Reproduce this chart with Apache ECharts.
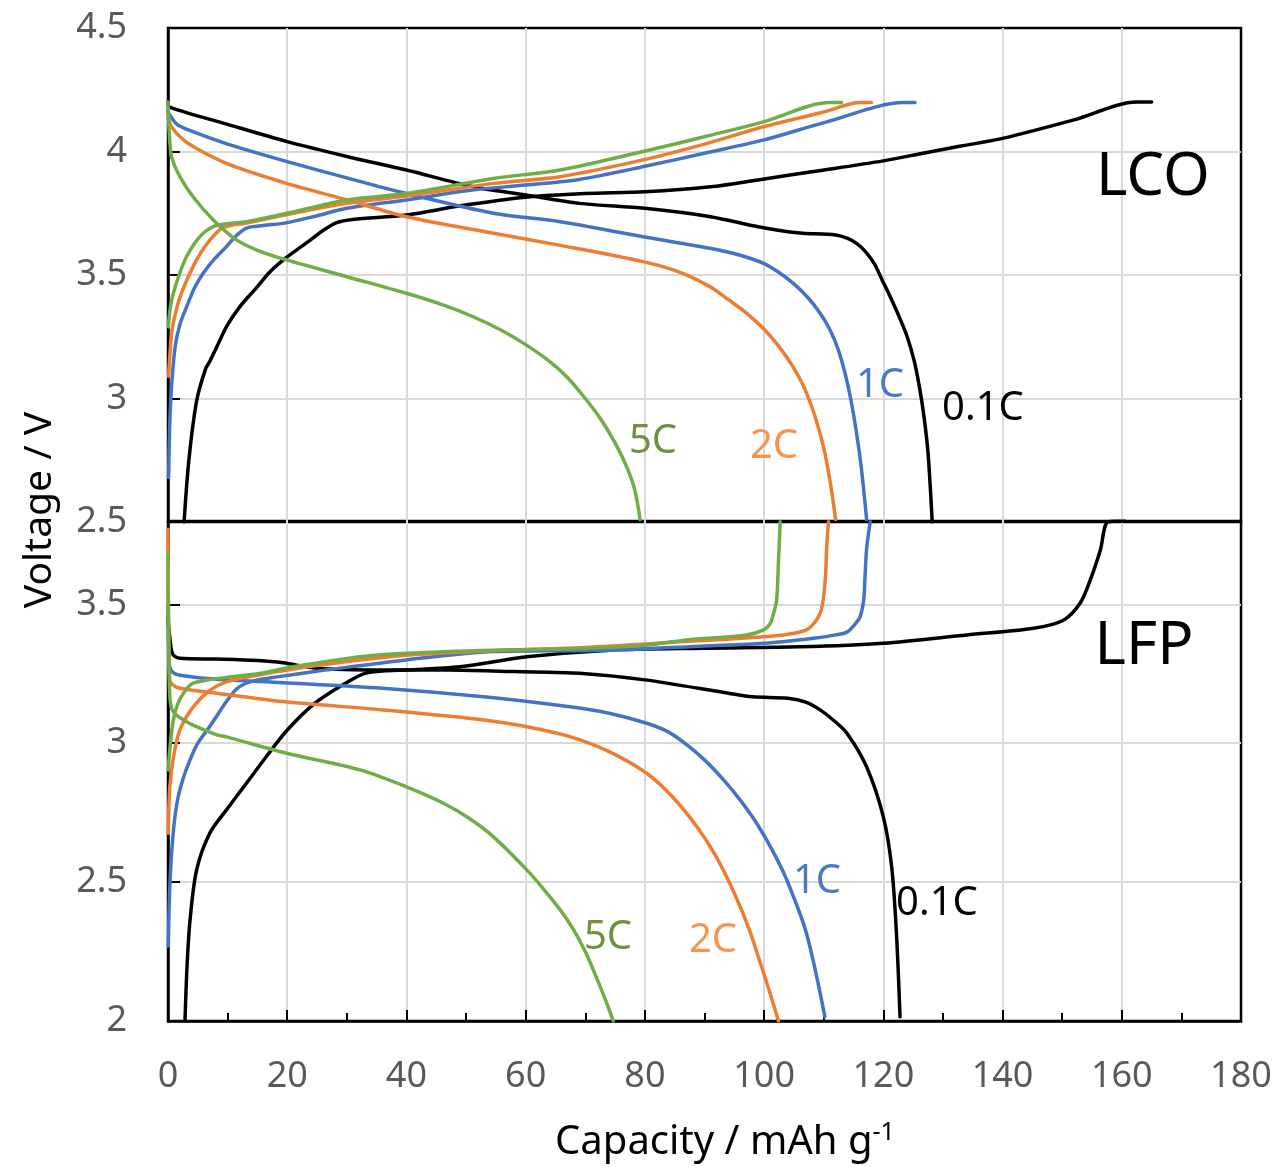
<!DOCTYPE html>
<html><head><meta charset="utf-8">
<script src="https://cdn.jsdelivr.net/npm/echarts@6/dist/echarts.min.js"></script>
<style>html,body{margin:0;padding:0;background:#fff}#c{width:1278px;height:1167px}</style>
</head><body><div id="c"></div>
<script>
// ---- LCO panel (top) : [capacity mAh/g, voltage V]
const lcoCharge01 = [[2.7,2.5],[3.5,2.75],[4.8,2.99],[6.3,3.12],[7.0,3.15],[8.2,3.21],[9.8,3.29],[12,3.37],[14.9,3.45],[17,3.51],[19.3,3.56],[21.5,3.6],[23.8,3.64],[26,3.68],[28.3,3.712],[31,3.725],[40,3.743],[49,3.78],[60,3.815],[70,3.83],[80,3.837],[91,3.857],[99,3.885],[108,3.918],[120,3.962],[126,3.99],[133,4.022],[140,4.053],[152,4.128],[162.5,4.2],[165,4.2]];
const lcoDis01 = [[0,4.2],[0.3,4.18],[10,4.11],[20,4.04],[30,3.98],[40,3.925],[51,3.858],[60,3.824],[69,3.79],[80,3.77],[91,3.736],[99,3.695],[104,3.675],[106.5,3.669],[112,3.662],[114,3.648],[115.5,3.628],[117,3.595],[118.5,3.545],[119.8,3.48],[121,3.42],[122.5,3.34],[124,3.25],[125.2,3.15],[126.1,3.04],[126.8,2.93],[127.5,2.78],[128.2,2.5]];
const lcoCharge1C = [[0.1,2.68],[0.3,2.9],[0.6,3.05],[1.2,3.21],[2,3.3],[3.1,3.37],[4.5,3.45],[5.9,3.507],[7.8,3.565],[9.8,3.615],[11.5,3.66],[13.2,3.69],[16,3.70],[20,3.712],[25,3.74],[30,3.77],[40,3.804],[51,3.844],[60,3.864],[69,3.887],[80,3.94],[90,3.993],[100,4.047],[110.5,4.12],[123.4,4.198],[125.3,4.198]];
const lcoDis1C = [[0,4.16],[0.3,4.148],[1.5,4.11],[4.2,4.08],[10,4.03],[20,3.959],[30,3.893],[40,3.83],[54.6,3.75],[65.8,3.716],[79.7,3.655],[90.9,3.608],[96,3.58],[99.9,3.547],[102.5,3.51],[104.9,3.466],[107.3,3.41],[109.4,3.345],[111,3.28],[112.4,3.2],[113.6,3.1],[114.6,2.99],[115.5,2.86],[116.3,2.72],[117.2,2.51]];
const lcoCharge2C = [[0.1,3.09],[0.6,3.264],[1.2,3.34],[2,3.41],[3,3.47],[4.2,3.534],[5.5,3.59],[7,3.64],[9,3.689],[11,3.703],[13.2,3.71],[20,3.745],[30,3.79],[40,3.82],[54.6,3.871],[65.8,3.898],[79.7,3.966],[90,4.03],[99.9,4.10],[110,4.16],[116.1,4.198],[118,4.198]];
const lcoDis2C = [[0,4.135],[0.6,4.10],[2,4.06],[4.2,4.02],[10,3.95],[19.9,3.871],[30,3.804],[40,3.736],[54.6,3.669],[65.8,3.62],[79.7,3.554],[86,3.51],[90.9,3.453],[94,3.40],[97.1,3.345],[100,3.28],[102.5,3.21],[104.8,3.13],[106.8,3.04],[108.5,2.93],[110,2.8],[111.1,2.66],[112,2.51]];
const lcoCharge5C = [[0.05,3.29],[0.4,3.37],[0.9,3.426],[2,3.51],[3.1,3.574],[4.5,3.63],[5.9,3.669],[7.6,3.696],[10,3.708],[13.2,3.716],[20,3.75],[30,3.804],[40,3.83],[54.6,3.891],[65.8,3.925],[79.7,4.0],[90,4.06],[99.9,4.12],[111,4.198],[113,4.198]];
const lcoDis5C = [[0,4.2],[0.2,4.08],[0.6,3.979],[2,3.898],[4.2,3.817],[7.6,3.723],[11.5,3.642],[15,3.6],[19.9,3.561],[30,3.493],[40,3.426],[46,3.38],[51.2,3.331],[56,3.275],[60.2,3.215],[64,3.15],[67,3.085],[70,3.0],[72.5,2.92],[75,2.82],[77,2.72],[78.3,2.63],[79.2,2.51]];

// ---- LFP panel (bottom)
const lfpCharge01 = [[2.85,2.0],[3.2,2.2],[3.7,2.364],[4.8,2.544],[7,2.676],[9.8,2.76],[12.6,2.84],[16.6,2.955],[19.9,3.045],[24.4,3.14],[28.9,3.205],[32.8,3.25],[36,3.26],[40,3.264],[49,3.275],[60.2,3.311],[74.1,3.335],[90,3.342],[106,3.347],[120,3.36],[134,3.39],[145.2,3.414],[150.2,3.443],[153,3.504],[154.7,3.587],[156.4,3.695],[157.7,3.797],[160.5,3.8]];
const lfpDis01 = [[0,3.45],[0.3,3.38],[0.8,3.32],[2,3.306],[8.2,3.303],[15,3.298],[19.3,3.29],[24.9,3.27],[36,3.264],[47,3.264],[58,3.258],[69,3.252],[80,3.228],[94,3.18],[98,3.167],[104,3.162],[107,3.148],[109.4,3.12],[111.8,3.08],[113.9,3.036],[117.2,2.915],[120,2.735],[121.4,2.555],[122.2,2.316],[122.8,2.015]];
const lfpCharge1C = [[0.05,2.27],[0.3,2.483],[0.8,2.66],[1.5,2.784],[2.5,2.87],[3.7,2.94],[5,3.0],[7,3.06],[9.8,3.15],[11.5,3.195],[13,3.215],[15,3.228],[18,3.238],[26.6,3.264],[40,3.3],[54.6,3.33],[74.1,3.335],[90,3.35],[100,3.36],[108.3,3.378],[112,3.39],[113.9,3.40],[115.3,3.43],[116.1,3.455],[116.7,3.515],[116.9,3.587],[117.2,3.7],[117.8,3.797]];
const lfpDis1C = [[0,3.5],[0.15,3.32],[0.3,3.275],[0.8,3.255],[2,3.245],[8.2,3.23],[19.3,3.218],[36,3.198],[53,3.167],[67.4,3.131],[74,3.108],[80.3,3.072],[84,3.04],[87,2.995],[90,2.94],[93.2,2.868],[96,2.795],[98.8,2.71],[101.5,2.61],[103.8,2.508],[107.1,2.316],[110.2,2.015]];
const lfpCharge2C = [[0.05,2.676],[0.3,2.843],[1,2.96],[2,3.048],[4.2,3.13],[7,3.19],[9.8,3.221],[15,3.245],[25,3.28],[40,3.317],[54.6,3.333],[70,3.345],[86,3.365],[100,3.383],[104,3.392],[107.1,3.408],[108.5,3.435],[109.4,3.468],[109.9,3.515],[110.3,3.6],[110.5,3.707],[110.8,3.797]];
const lfpDis2C = [[0,3.77],[0.1,3.4],[0.3,3.228],[0.8,3.21],[2,3.198],[8.2,3.18],[19.3,3.15],[36,3.12],[53,3.084],[60,3.06],[67.4,3.024],[74,2.97],[80.3,2.892],[84.5,2.81],[88.7,2.70],[92,2.59],[95,2.46],[97.5,2.33],[99.5,2.2],[101,2.1],[102.4,2.0]];
const lfpCharge5C = [[0.05,2.904],[0.4,3.0],[0.9,3.084],[1.6,3.14],[2.6,3.18],[4.2,3.216],[9.8,3.237],[15,3.25],[21,3.275],[32.2,3.311],[40,3.324],[54.6,3.335],[68,3.34],[80.3,3.353],[87,3.372],[97.1,3.39],[99.9,3.408],[101,3.43],[101.6,3.468],[102.1,3.515],[102.4,3.65],[102.7,3.797]];
const lfpDis5C = [[0,3.68],[0.1,3.4],[0.3,3.17],[0.7,3.12],[1.5,3.1],[2.6,3.084],[4.2,3.065],[8.2,3.03],[9.8,3.023],[19.9,2.964],[32.2,2.904],[40,2.843],[46.2,2.784],[50.5,2.73],[54.6,2.663],[60.2,2.544],[63,2.475],[65.8,2.40],[68,2.33],[70,2.25],[72,2.15],[73.5,2.07],[74.7,2.0]];

// ---- axes / labels
const xRange = [0, 180, 20];
const lcoYRange = [2.5, 4.5, 0.5];
const lfpYRange = [2, 3.8, 0.5];
const rateNames = ['0.1C', '1C', '2C', '5C'];
const lineColors = ['#000000', '#4472C4', '#ED7D31', '#70AD47'];
const labelColors = ['#000000', '#4A7BC2', '#F5964E', '#6F9140'];

const FONT = '"Noto Sans", "Open Sans", sans-serif';
const chart = echarts.init(document.getElementById('c'), null, {renderer: 'canvas'});

function line(data, ci, gi) {
  return {
    type: 'line', data, xAxisIndex: gi, yAxisIndex: gi,
    showSymbol: false, smooth: 0.3, clip: true, animation: false,
    lineStyle: {color: lineColors[ci], width: 3.5, join: 'round', cap: 'round'}, itemStyle: {color: lineColors[ci]},
    z: 3 + ci
  };
}
const grid = {color: '#d9d9d9', width: 2};
function xAxis(gi, bottom) {
  return {
    type: 'value', gridIndex: gi, min: xRange[0], max: xRange[1], interval: xRange[2],
    axisLine: {show: bottom, lineStyle: {color: '#000', width: 2.5}},
    axisTick: {show: bottom, inside: true, length: 11, lineStyle: {color: '#000', width: 2}},
    minorTick: {show: bottom, splitNumber: 2, length: 8, lineStyle: {color: '#000', width: 2}},
    axisLabel: {show: bottom, margin: 38, fontSize: 36, color: '#595959', fontFamily: FONT},
    splitLine: {show: true, lineStyle: grid, showMinLine: false, showMaxLine: false}
  };
}
function yAxis(gi, r, showMax) {
  return {
    type: 'value', gridIndex: gi, min: r[0], max: r[1], interval: r[2],
    axisLine: {show: true, lineStyle: {color: '#000', width: 2.5}},
    axisTick: {show: true, inside: true, length: 12, lineStyle: {color: '#000', width: 2}},
    axisLabel: {margin: 41, fontSize: 36, color: '#595959', fontFamily: FONT, showMaxLabel: showMax},
    splitLine: {show: true, lineStyle: grid, showMinLine: false, showMaxLine: false}
  };
}
function txt(x, y, text, color, size) {
  return {type: 'text', x, y, z: 100, style: {text, fill: color, fontSize: size, fontFamily: FONT,
    align: 'center', verticalAlign: 'middle', textAlign: 'center', textVerticalAlign: 'middle'}};
}

chart.setOption({
  backgroundColor: '#fff',
  animation: false,
  grid: [
    {left: 168, top: 28, width: 1073, height: 494, show: true, borderColor: '#000', borderWidth: 2.5, backgroundColor: 'transparent'},
    {left: 168, top: 521, width: 1073, height: 500, show: true, borderColor: '#000', borderWidth: 2.5, backgroundColor: 'transparent'}
  ],
  xAxis: [xAxis(0, false), xAxis(1, true)],
  yAxis: [yAxis(0, lcoYRange, true), yAxis(1, lfpYRange, false)],
  series: [
    line(lcoCharge01, 0, 0), line(lcoDis01, 0, 0),
    line(lcoCharge1C, 1, 0), line(lcoDis1C, 1, 0),
    line(lcoCharge2C, 2, 0), line(lcoDis2C, 2, 0),
    line(lcoCharge5C, 3, 0), line(lcoDis5C, 3, 0),
    line(lfpCharge01, 0, 1), line(lfpDis01, 0, 1),
    line(lfpCharge1C, 1, 1), line(lfpDis1C, 1, 1),
    line(lfpCharge2C, 2, 1), line(lfpDis2C, 2, 1),
    line(lfpCharge5C, 3, 1), line(lfpDis5C, 3, 1)
  ],
  graphic: [
    txt(1153, 178, 'LCO', '#000', 60),
    txt(1144, 647, 'LFP', '#000', 60),
    txt(983, 409, rateNames[0], labelColors[0], 40),
    txt(880, 386, rateNames[1], labelColors[1], 40),
    txt(774, 447, rateNames[2], labelColors[2], 40),
    txt(653, 442, rateNames[3], labelColors[3], 40),
    txt(937, 904, rateNames[0], labelColors[0], 40),
    txt(817, 882, rateNames[1], labelColors[1], 40),
    txt(713, 941, rateNames[2], labelColors[2], 40),
    txt(608, 938, rateNames[3], labelColors[3], 40),
    {type: 'text', x: 40, y: 510, rotation: Math.PI / 2, z: 100,
     style: {text: 'Voltage / V', fill: '#000', fontSize: 39, fontFamily: FONT,
       align: 'center', verticalAlign: 'middle', textAlign: 'center', textVerticalAlign: 'middle'}},
    {type: 'text', x: 725, y: 1143, z: 100,
     style: {text: 'Capacity / mAh g{s|-1}', fill: '#000', fontSize: 40, fontFamily: FONT, lineHeight: 46,
       align: 'center', verticalAlign: 'middle', textAlign: 'center', textVerticalAlign: 'middle',
       rich: {s: {fontSize: 25, fontFamily: FONT, fill: '#000', verticalAlign: 'top', lineHeight: 25}}}}
  ]
});
</script>
</body></html>
